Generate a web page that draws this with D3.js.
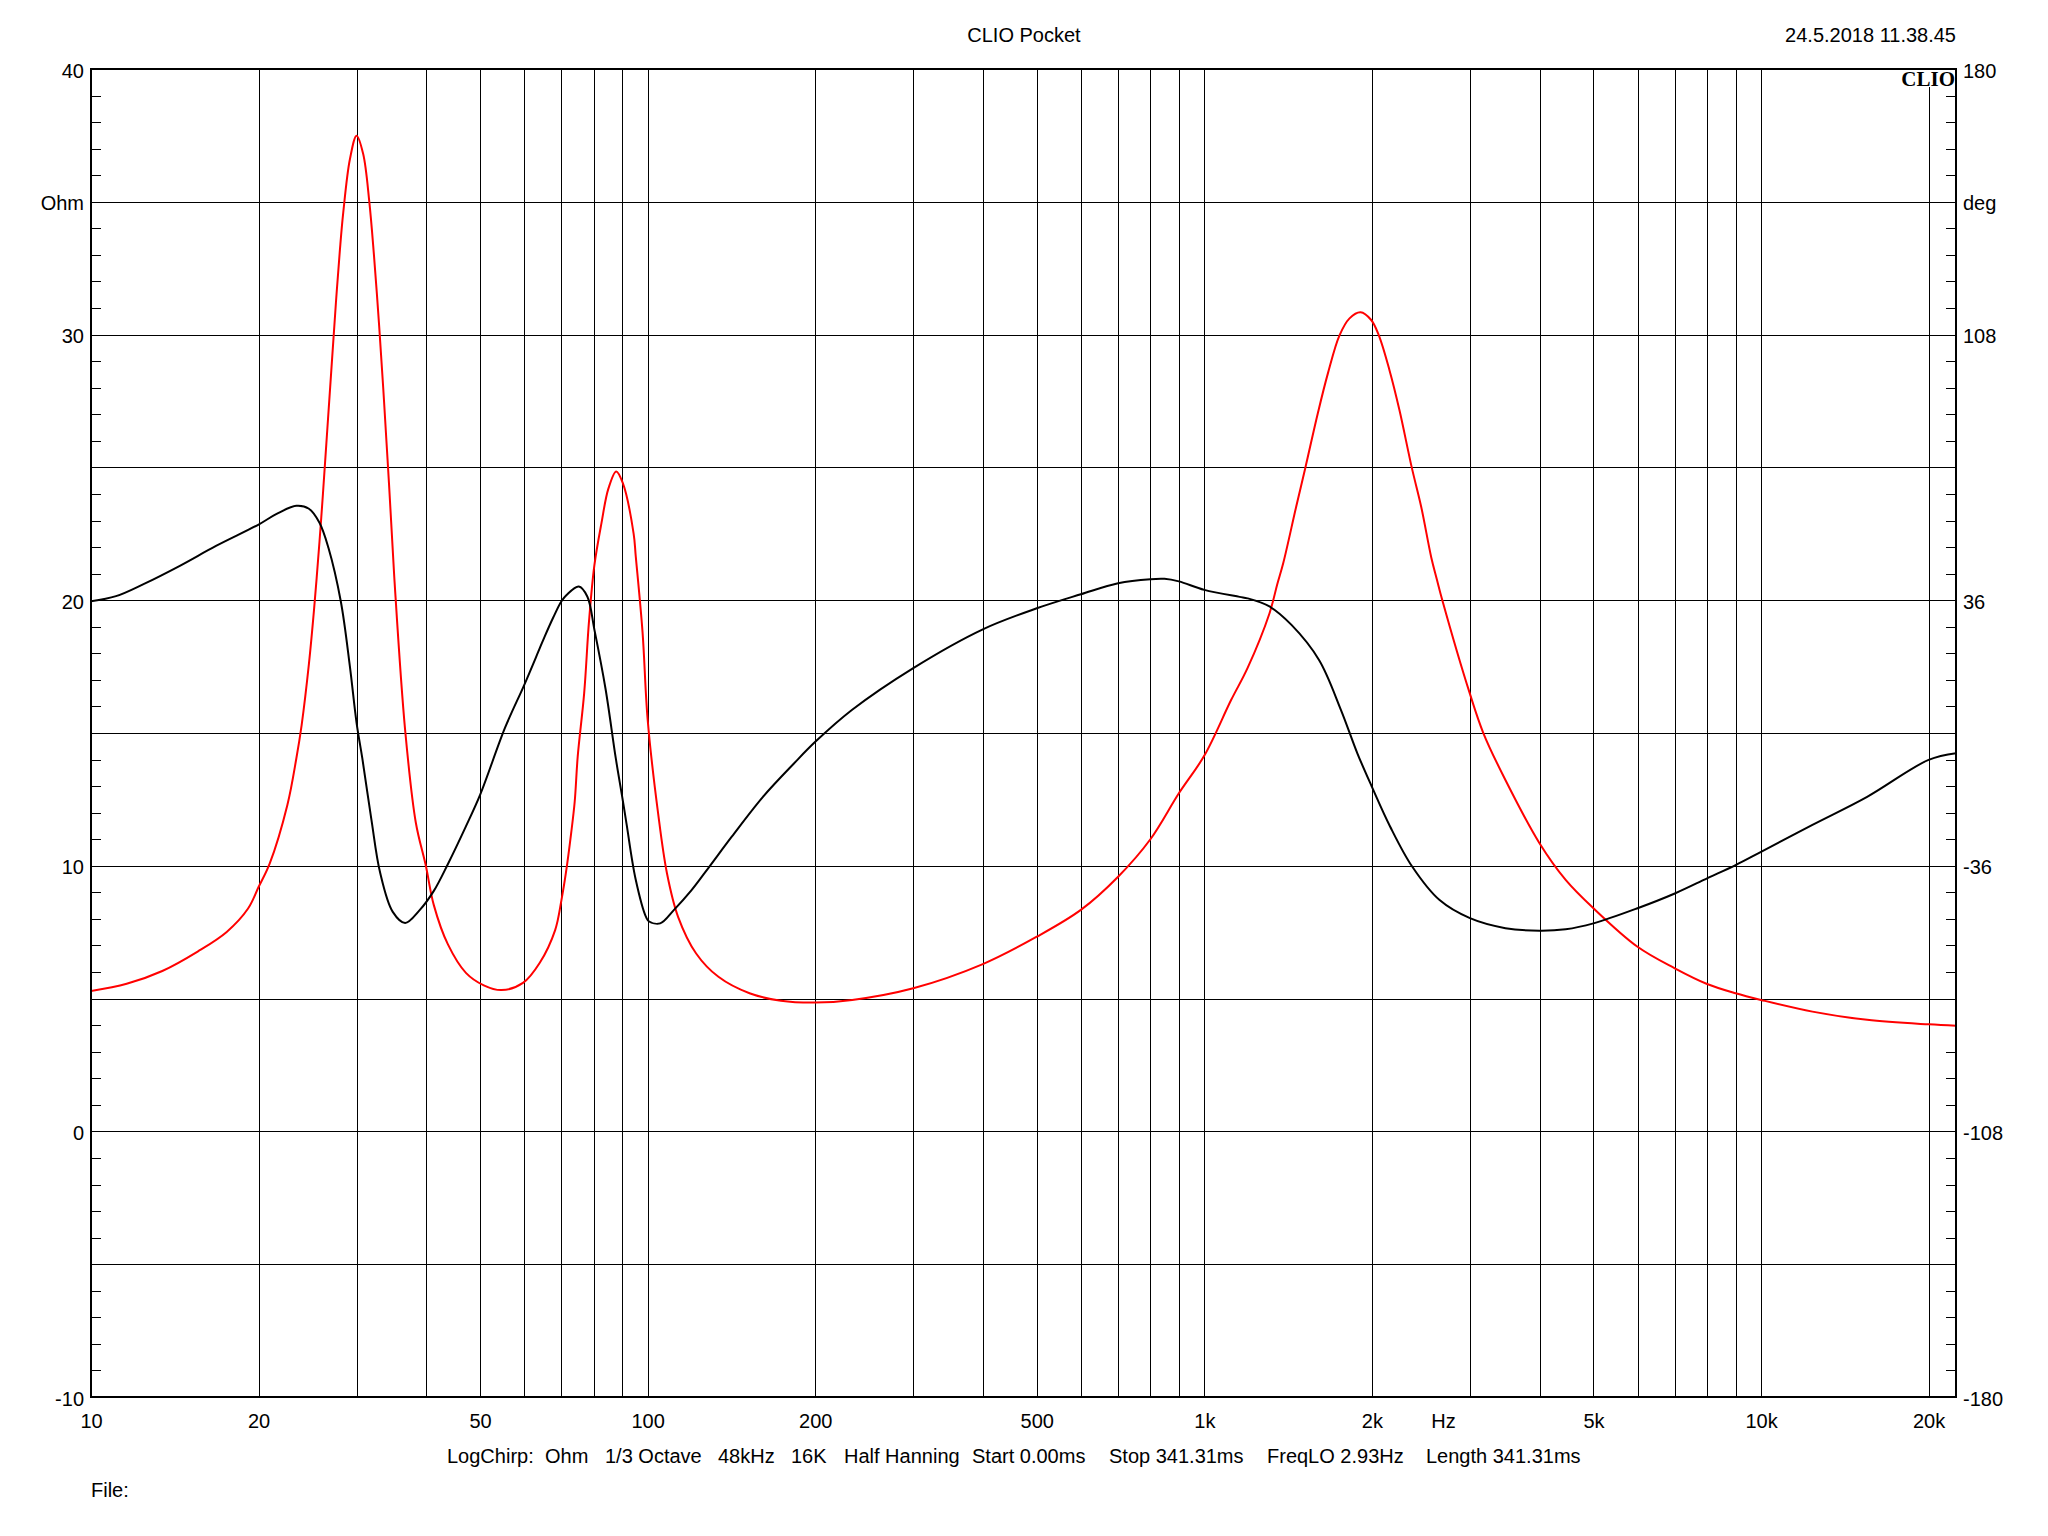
<!DOCTYPE html>
<html>
<head>
<meta charset="utf-8">
<script src="https://cdn.jsdelivr.net/npm/d3@7"></script>
<style>
  html, body { margin: 0; padding: 0; background: #fff; }
  svg { display: block; }
  text { font-family: "Liberation Sans", Arial, sans-serif; font-size: 20px; fill: #000; }
</style>
</head>
<body>
<script>
// ---------------- DATA ----------------
const impFreq = [10, 11.59, 13.43, 15.57, 17.53, 19.15, 20, 20.93, 22.53, 23.38, 23.9, 24.63, 25.17, 25.73, 26.1, 26.57, 27.09, 27.54, 28.0, 28.39, 29.18, 30.0, 30.83, 31.62, 32.23, 32.94, 33.49, 33.96, 34.3, 35.1, 36.67, 38.33, 39.95, 41.29, 43.77, 47.15, 50.77, 54.65, 59.7, 64.0, 68.2, 70, 71.3, 72.86, 73.95, 74.87, 76.9, 78.45, 80.2, 82.6, 85.0, 87.8, 90.27, 94.35, 95.2, 97.9, 100, 104.4, 108.3, 113.4, 122.2, 134, 152.4, 173.5, 200, 233, 300, 400, 500, 600, 700, 800, 900, 1000, 1117, 1196, 1309, 1352, 1386, 1462, 1519, 1599, 1667, 1749, 1823, 1908, 1994, 2058, 2150, 2241, 2358, 2452, 2557, 2615, 2676, 2997, 3172, 3474, 4000, 4457, 5000, 6000, 7000, 8000, 9000, 10000, 12370, 15510, 20000, 22400];
const impOhm = [5.29, 5.56, 6.04, 6.78, 7.51, 8.39, 9.2, 10.07, 12.29, 14.04, 15.3, 17.6, 19.7, 22.2, 24.0, 26.4, 29.0, 31.2, 33.2, 34.6, 36.6, 37.49, 36.8, 35.0, 33.0, 30.3, 28.0, 25.9, 24.4, 20.7, 15.11, 11.62, 10.0, 8.52, 7.04, 5.97, 5.5, 5.32, 5.59, 6.35, 7.58, 8.71, 9.73, 11.22, 12.42, 14.11, 16.5, 19.2, 21.3, 22.9, 24.2, 24.85, 24.4, 22.51, 21.64, 18.8, 15.5, 11.98, 9.72, 8.08, 6.7, 5.82, 5.2, 4.92, 4.85, 4.95, 5.39, 6.3, 7.33, 8.34, 9.59, 11.0, 12.73, 14.15, 16.24, 17.45, 19.5, 20.6, 21.4, 23.52, 25.0, 27.04, 28.54, 29.97, 30.61, 30.84, 30.55, 29.97, 28.67, 27.16, 25.0, 23.52, 21.6, 20.8, 20.0, 16.5, 14.99, 13.23, 10.85, 9.47, 8.4, 6.95, 6.14, 5.55, 5.2, 4.95, 4.51, 4.2, 4.03, 3.98];

const phaseFreq = [10, 11.09, 12.48, 14.47, 16.77, 20, 21.55, 23.38, 24.63, 25.73, 26.7, 28.1, 29.17, 30, 30.72, 31.89, 33.07, 34.84, 36.67, 38.9, 41.29, 43.77, 47.15, 50.02, 55.46, 60, 64, 65.25, 67.66, 70, 71.5, 75.2, 77.9, 80.25, 84, 87.65, 90, 91.6, 95.1, 99.4, 100.6, 105.3, 111.4, 119.9, 129.1, 141.6, 161.1, 183.3, 200, 233, 300, 400, 500, 600, 700, 800, 848, 900, 1000, 1157, 1196, 1309, 1434, 1607, 1759, 1883, 2000, 2157, 2362, 2646, 3000, 3474, 4000, 4457, 5000, 6000, 7000, 8000, 9000, 10000, 12370, 15510, 20000, 22400];
const phaseDeg = [35.7, 37.1, 40.5, 45.4, 50.7, 56.5, 59.4, 61.6, 60.8, 57.0, 50.2, 35.7, 18.2, 2.7, -6.9, -23.4, -37.9, -48.5, -51.5, -48.1, -42.8, -35.5, -25.3, -16.7, 1.5, 13.0, 23.0, 26.0, 31.3, 35.7, 37.4, 39.7, 37.0, 27.9, 12.0, -6.9, -17.3, -24.5, -39.5, -50.0, -51.1, -51.6, -48.0, -42.6, -36.2, -28.1, -17.3, -8.2, -2.4, 6.3, 17.6, 28.1, 33.8, 37.6, 40.6, 41.7, 41.8, 41.1, 38.8, 36.9, 36.5, 34.3, 29.3, 19.8, 6.3, -5.5, -14.6, -25.4, -36.2, -45.3, -50.2, -52.9, -53.6, -53.2, -51.6, -47.5, -43.5, -39.4, -35.8, -32.2, -24.9, -17.3, -7.3, -5.5];

const xTickValues = [10, 20, 50, 100, 200, 500, 1000, 2000, 5000, 10000, 20000];
const xTickLabels = ["10", "20", "50", "100", "200", "500", "1k", "2k", "5k", "10k", "20k"];
const xGridValues = [20, 30, 40, 50, 60, 70, 80, 90, 100, 200, 300, 400, 500, 600, 700, 800, 900, 1000, 2000, 3000, 4000, 5000, 6000, 7000, 8000, 9000, 10000, 20000];
const yGridValues = [35, 30, 25, 20, 15, 10, 5, 0, -5];
const leftTickValues = [40, 35, 30, 20, 10, 0, -10];
const leftTickLabels = ["40", "Ohm", "30", "20", "10", "0", "-10"];
const rightTickValues = [180, 144, 108, 36, -36, -108, -180];
const rightTickLabels = ["180", "deg", "108", "36", "-36", "-108", "-180"];
const infoItems = ["LogChirp:", "Ohm", "1/3 Octave", "48kHz", "16K", "Half Hanning", "Start 0.00ms", "Stop 341.31ms", "FreqLO 2.93Hz", "Length 341.31ms"];
const infoX = [447, 545, 605, 718, 791, 844, 972, 1109, 1267, 1426];

// ---------------- LAYOUT ----------------
const W = 2048, H = 1536;
const L = 91, R = 1956, T = 69, B = 1397;

const x = d3.scaleLog().domain([10, 22400]).range([L, R]);
const yL = d3.scaleLinear().domain([-10, 40]).range([B, T]);
const yR = d3.scaleLinear().domain([-180, 180]).range([B, T]);

const svg = d3.select("body").append("svg").attr("width", W).attr("height", H);
svg.append("rect").attr("width", W).attr("height", H).attr("fill", "#fff");

const px = v => Math.round(v) + 0.5;

// grid
const grid = svg.append("g").attr("stroke", "#000").attr("stroke-width", 1).attr("shape-rendering", "crispEdges");
grid.selectAll("line.v").data(xGridValues).join("line").attr("class", "v")
  .attr("x1", d => px(x(d))).attr("x2", d => px(x(d))).attr("y1", T).attr("y2", B);
grid.selectAll("line.h").data(yGridValues).join("line").attr("class", "h")
  .attr("x1", L).attr("x2", R).attr("y1", d => px(yL(d))).attr("y2", d => px(yL(d)));

// minor ticks (inward)
const minor = d3.range(-10, 41, 1);
svg.append("g").attr("transform", `translate(${L},0)`).attr("shape-rendering", "crispEdges")
  .call(d3.axisLeft(yL).tickValues(minor).tickSize(-10).tickFormat(""))
  .call(g => g.select(".domain").remove())
  .call(g => g.selectAll("line").attr("stroke", "#000"));
svg.append("g").attr("transform", `translate(${R},0)`).attr("shape-rendering", "crispEdges")
  .call(d3.axisRight(yL).tickValues(minor).tickSize(-10).tickFormat(""))
  .call(g => g.select(".domain").remove())
  .call(g => g.selectAll("line").attr("stroke", "#000"));

// curves
svg.append("clipPath").attr("id", "plot").append("rect")
  .attr("x", L).attr("y", T).attr("width", R - L).attr("height", B - T);
const impData = impFreq.map((f, i) => [f, impOhm[i]]);
const phData = phaseFreq.map((f, i) => [f, phaseDeg[i]]);
const lineImp = d3.line().x(d => x(d[0])).y(d => yL(d[1])).curve(d3.curveCatmullRom.alpha(0.5));
const linePh = d3.line().x(d => x(d[0])).y(d => yR(d[1])).curve(d3.curveCatmullRom.alpha(0.5));
const curves = svg.append("g").attr("clip-path", "url(#plot)");
curves.append("path").datum(impData).attr("d", lineImp)
  .attr("fill", "none").attr("stroke", "#ff0000").attr("stroke-width", 2);
curves.append("path").datum(phData).attr("d", linePh)
  .attr("fill", "none").attr("stroke", "#000").attr("stroke-width", 2);

// frame
svg.append("rect").attr("x", L).attr("y", T).attr("width", R - L).attr("height", B - T)
  .attr("fill", "none").attr("stroke", "#000").attr("stroke-width", 2).attr("shape-rendering", "crispEdges");

// axis labels
svg.append("g").attr("transform", `translate(${L},0)`)
  .call(d3.axisLeft(yL).tickValues(leftTickValues).tickSize(0).tickPadding(7)
    .tickFormat((d, i) => leftTickLabels[i]))
  .call(g => g.select(".domain").remove())
  .call(g => g.selectAll("text").attr("dy", "0.4em").attr("font-size", 20)
    .attr("font-family", "'Liberation Sans', Arial, sans-serif").attr("fill", "#000"));
svg.append("g").attr("transform", `translate(${R},0)`)
  .call(d3.axisRight(yR).tickValues(rightTickValues).tickSize(0).tickPadding(7)
    .tickFormat((d, i) => rightTickLabels[i]))
  .call(g => g.select(".domain").remove())
  .call(g => g.selectAll("text").attr("dy", "0.4em").attr("font-size", 20)
    .attr("font-family", "'Liberation Sans', Arial, sans-serif").attr("fill", "#000"));
svg.append("g").attr("transform", `translate(0,${B})`)
  .call(d3.axisBottom(x).tickValues(xTickValues).tickSize(0).tickPadding(17)
    .tickFormat((d, i) => xTickLabels[i]))
  .call(g => g.select(".domain").remove())
  .call(g => g.selectAll("text").attr("font-size", 20)
    .attr("font-family", "'Liberation Sans', Arial, sans-serif").attr("fill", "#000"));
svg.append("text").attr("x", x(2690)).attr("y", 1428).attr("text-anchor", "middle").text("Hz");

// header
svg.append("text").attr("x", 1024).attr("y", 41.5).attr("text-anchor", "middle").text("CLIO Pocket");
svg.append("text").attr("x", R).attr("y", 41.5).attr("text-anchor", "end").text("24.5.2018 11.38.45");

// CLIO logo
svg.append("rect").attr("x", 1899).attr("y", 70).attr("width", 56).attr("height", 17).attr("fill", "#fff");
svg.append("text").attr("x", 1955).attr("y", 86).attr("text-anchor", "end")
  .style("font-family", "'Liberation Serif', 'Times New Roman', serif").style("font-weight", "bold")
  .style("font-size", "21px").text("CLIO");

// footer
svg.append("g").selectAll("text").data(infoItems).join("text")
  .attr("x", (d, i) => infoX[i]).attr("y", 1463).text(d => d);
svg.append("text").attr("x", 91).attr("y", 1497).text("File:");
</script>
</body>
</html>
